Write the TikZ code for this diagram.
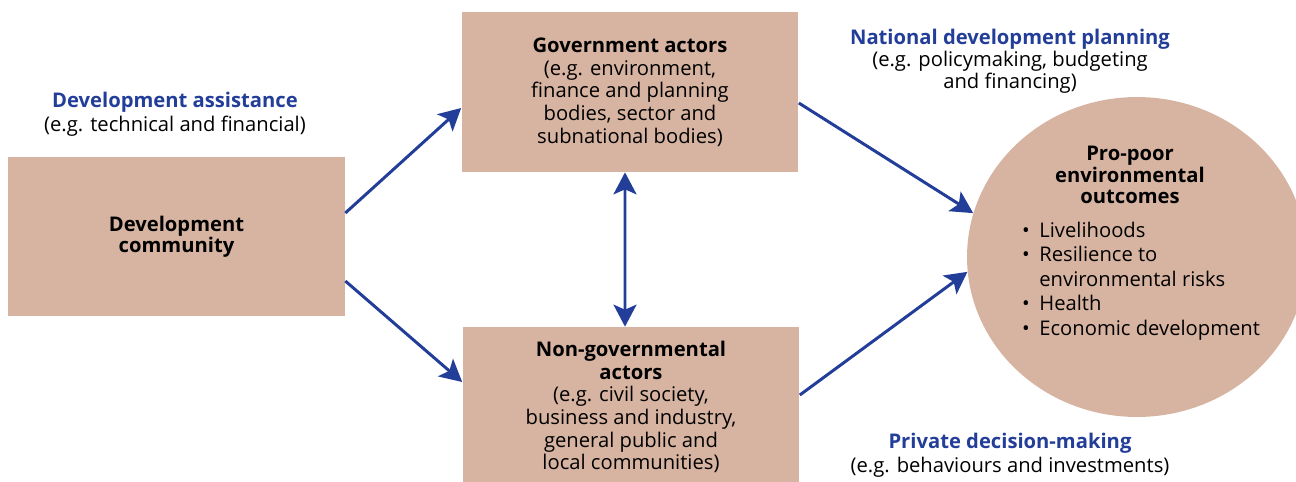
\documentclass[tikz,border=0pt]{standalone}
\usepackage{fontspec}
\setmainfont{Open Sans}
\usepackage{xcolor}
\definecolor{BoxTan}{RGB}{215,180,161}
\definecolor{FlowBlue}{RGB}{35,62,153}
\usepackage{tikz}
\usetikzlibrary{arrows.meta,shapes.geometric,calc}

\tikzset{
  >={Stealth[length=0.44cm,width=0.46cm,inset=0.1cm]},
  actorbox/.style={fill=BoxTan, minimum width=6.74cm, minimum height=3.2cm, inner sep=0pt,
    align=center, font=\fontsize{11.5}{12.9}\selectfont},
  flow/.style={draw=FlowBlue, line width=1.7pt, ->},
  twoway/.style={draw=FlowBlue, line width=1.7pt, <->},
  flowlabel/.style={align=center, font=\fontsize{11.5}{13.4}\selectfont},
}
\newcommand{\flowtitle}[1]{\textbf{\color{FlowBlue}#1}}
\newcommand{\outitem}[1]{\makebox[0.85em][l]{\textbullet}#1}

\begin{document}
\begin{tikzpicture}[x=0.02cm,y=-0.02cm]
        \useasboundingbox (0,0) rectangle (1296,481);
        \clip (0,0) rectangle (1296,481);

        % boxes
        \node[actorbox, minimum width=6.74cm, minimum height=3.18cm, font=\fontsize{11.5}{11.8}\selectfont] (dev) at (176.5,236.5)
            {\textbf{Development}\\\textbf{community}};
        \node[actorbox] (gov) at (630,92)
            {\textbf{Government actors}\\(e.g. environment,\\finance and planning\\bodies, sector and\\subnational bodies)};
        \node[actorbox] (ngo) at (631,407)
            {\textbf{Non-governmental}\\\textbf{actors}\\(e.g. civil society,\\business and industry,\\general public and\\local communities)};

        % outcomes
        \node[ellipse, fill=BoxTan, minimum width=6.8cm, minimum height=6.4cm, inner sep=0pt] (outcomes) at (1137,257) {};
        \node[align=center, font=\fontsize{11.5}{12.2}\selectfont\bfseries] (outtitle) at (1130,175)
            {Pro-poor\\environmental\\outcomes};
        \node[anchor=west, align=left, font=\fontsize{11.5}{14}\selectfont] (outlist) at (1016,281)
            {\outitem{Livelihoods}\\\outitem{Resilience to}\\\hspace*{0.85em}environmental risks\\\outitem{Health}\\\outitem{Economic development}};

        % connectors
        \draw[flow] ([yshift=0.47cm]dev.east) -- ([yshift=-0.32cm]gov.west);
        \draw[flow] ([yshift=-0.89cm]dev.east) -- ([yshift=0.5cm]ngo.west);
        \draw[twoway] ([xshift=-0.1cm]gov.south) -- ([xshift=-0.12cm]ngo.north);
        \draw[flow] ([yshift=-0.22cm]gov.east) -- (outcomes.165);
        \draw[flow] ([yshift=0.24cm]ngo.east) -- (outcomes.185);

        % labels
        \node[flowlabel] (assist) at (175,114)
            {\flowtitle{Development assistance}\\(e.g. technical and financial)};
        \node[flowlabel, font=\fontsize{11.5}{12.5}\selectfont] (planning) at (1010,61)
            {\flowtitle{National development planning}\\(e.g. policymaking, budgeting\\and financing)};
        \node[flowlabel] (private) at (1010,455)
            {\flowtitle{Private decision-making}\\(e.g. behaviours and investments)};
    \end{tikzpicture}
\end{document}
